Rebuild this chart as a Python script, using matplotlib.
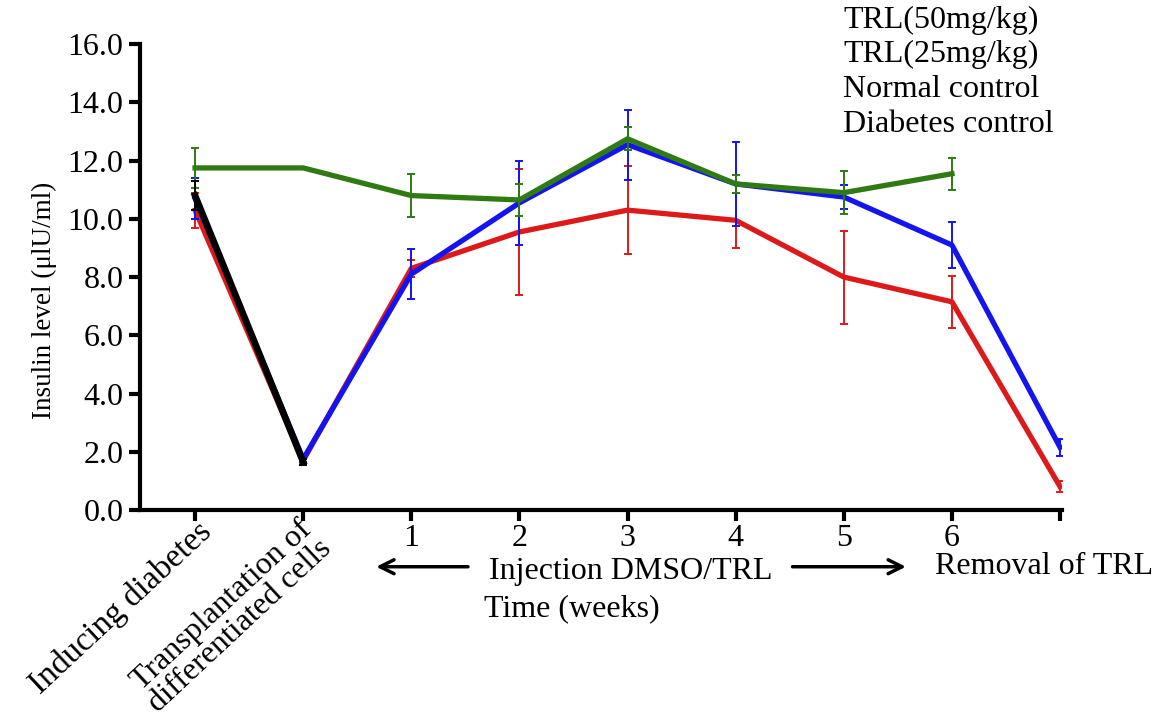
import matplotlib
matplotlib.use('Agg')
import matplotlib.pyplot as plt
import numpy as np

plt.rcParams['font.family'] = ['Liberation Serif', 'DejaVu Serif']

# x positions: 0 = inducing diabetes, 1 = transplantation, 2..7 = weeks 1-6, 8 = removal of TRL
x_all = np.arange(9)
week_labels = ['1', '2', '3', '4', '5', '6']

trl50 = [10.7, 1.75, 8.1, 10.55, 12.55, 11.2, 10.75, 9.1, 2.15]
trl50_err = [0.7, 0.1, 0.85, 1.45, 1.2, 1.45, 0.4, 0.8, 0.3]

trl25 = [10.3, 1.7, 8.3, 9.55, 10.3, 9.95, 8.0, 7.15, 0.8]
trl25_err = [0.6, 0.1, 0.3, 2.15, 1.5, 0.95, 1.6, 0.9, 0.2]

normal = [11.75, 11.75, 10.8, 10.65, 12.75, 11.2, 10.9, 11.55]
normal_err = [0.7, 0.0, 0.75, 0.55, 0.4, 0.3, 0.75, 0.55]

diabetes = [10.8, 1.65]
diabetes_err = [0.5, 0.1]

legend_labels = ['TRL(50mg/kg)', 'TRL(25mg/kg)', 'Normal control', 'Diabetes control']

fs = 23
fig = plt.figure(figsize=(11.66, 7.21), dpi=100)
ax = fig.add_axes([0.12, 0.2927, 0.791, 0.646])

lw = 3.8
ekw = dict(elinewidth=1.4, capsize=3, capthick=1.4)
ax.errorbar(x_all, trl50, yerr=trl50_err, color='#1414f0', lw=lw, zorder=3, **ekw)
ax.errorbar(x_all, trl25, yerr=trl25_err, color='#dc1a1a', lw=lw, zorder=2, **ekw)
ax.errorbar(x_all[:8], normal, yerr=normal_err, color='#2f7a12', lw=lw, zorder=4, **ekw)
ax.errorbar(x_all[:2], diabetes, yerr=diabetes_err, color='black', lw=4.8, zorder=5, **ekw)

ax.set_xlim(-0.51, 8.02)
ax.set_ylim(0, 16)
ax.set_yticks(np.arange(0, 16.1, 2))
ax.set_yticklabels(['%.1f' % v for v in np.arange(0, 16.1, 2)])
ax.set_xticks(x_all)
ax.set_xticklabels([''] * 2 + week_labels + [''])

for s in ['top', 'right']:
    ax.spines[s].set_visible(False)
for s in ['left', 'bottom']:
    ax.spines[s].set_linewidth(3)
ax.tick_params(axis='both', direction='out', length=8, width=3, labelsize=fs, pad=4)
ax.tick_params(axis='x', pad=2)

ax.set_ylabel('Insulin level (\u03bclU/ml)', fontsize=19.5)
ax.yaxis.set_label_coords(-0.09, 0.45)

# slanted labels for first two ticks
ax.text(0.02, -0.22, 'Inducing diabetes', rotation=43, fontsize=24,
        ha='right', va='top', rotation_mode='anchor')
ax.text(0.96, -0.12, 'Transplantation of\ndifferentiated cells', rotation=43, fontsize=23,
        ha='right', va='top', rotation_mode='anchor', multialignment='center', linespacing=0.95)

ax.text(7.85, -1.95, 'Removal of TRL', fontsize=fs, ha='center', va='center', clip_on=False)
ax.text(4.03, -2.1, 'Injection DMSO/TRL', fontsize=fs, ha='center', va='center')
ax.text(3.48, -3.4, 'Time (weeks)', fontsize=fs, ha='center', va='center')
ax.annotate('', xy=(1.65, -1.95), xytext=(2.55, -1.95), annotation_clip=False,
            arrowprops=dict(arrowstyle='->', lw=2.5, color='black', mutation_scale=25))
ax.annotate('', xy=(6.6, -1.95), xytext=(5.5, -1.95), annotation_clip=False,
            arrowprops=dict(arrowstyle='->', lw=2.5, color='black', mutation_scale=25))

# legend is text only in the original
for i, lab in enumerate(legend_labels):
    fig.text(0.723, 0.972 - i * 0.048, lab, fontsize=fs, ha='left', va='center')

fig.savefig('out.png', dpi=100)
